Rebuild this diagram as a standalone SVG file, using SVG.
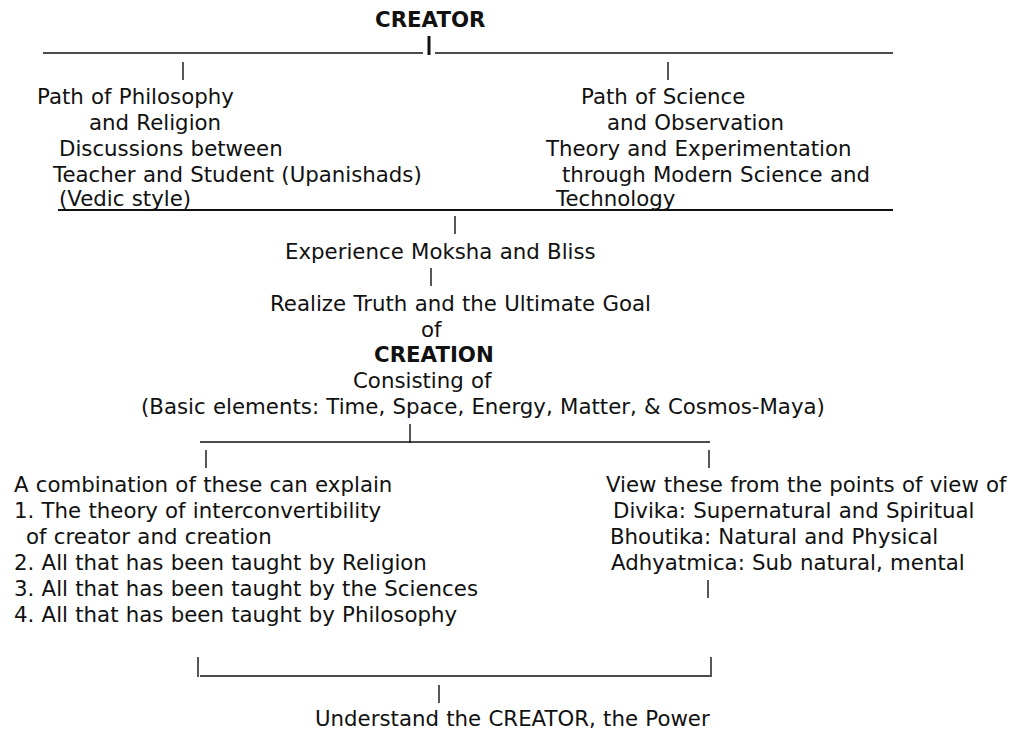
<svg xmlns="http://www.w3.org/2000/svg" width="1020" height="732" viewBox="0 0 1020 732">
<style>
text{font-family:"DejaVu Sans","Verdana",sans-serif;font-size:21.3px;word-spacing:0.5px;fill:#111}
.b{font-weight:bold}
.c line{stroke:#111;stroke-width:1.4}
.c .thick{stroke-width:3}
.c .ul{stroke-width:2.2}
</style>
<rect width="1020" height="732" fill="#fff"/>
<g id="connectors" class="c">
<line x1="43" y1="53" x2="423" y2="53"/>
<line class="thick" x1="429" y1="36" x2="429" y2="55"/>
<line x1="435" y1="53" x2="893" y2="53"/>
<line x1="183" y1="62" x2="183" y2="80"/>
<line x1="668" y1="62" x2="668" y2="80"/>
<line class="ul" x1="58" y1="210" x2="893" y2="210"/>
<line x1="455" y1="216" x2="455" y2="234"/>
<line x1="431" y1="268" x2="431" y2="286"/>
<line x1="200" y1="442" x2="710" y2="442"/>
<line x1="410" y1="424" x2="410" y2="443"/>
<line x1="206" y1="450" x2="206" y2="468"/>
<line x1="709" y1="450" x2="709" y2="468"/>
<line x1="708" y1="580" x2="708" y2="598"/>
<line x1="198" y1="657" x2="198" y2="677"/>
<line x1="200" y1="676" x2="710" y2="676"/>
<line x1="711" y1="657" x2="711" y2="677"/>
<line x1="439" y1="685" x2="439" y2="703"/>
</g>
<g id="creator"><text class="b" x="375" y="27">CREATOR</text></g>
<g id="philosophy">
<text x="37" y="104">Path of Philosophy</text>
<text x="89" y="130">and Religion</text>
<text x="59" y="156">Discussions between</text>
<text x="53" y="182">Teacher and Student (Upanishads)</text>
<text x="59" y="206">(Vedic style)</text>
</g>
<g id="science">
<text x="581" y="104">Path of Science</text>
<text x="607" y="130">and Observation</text>
<text x="546" y="156">Theory and Experimentation</text>
<text x="562" y="182">through Modern Science and</text>
<text x="556" y="206">Technology</text>
</g>
<g id="moksha"><text x="285" y="259">Experience Moksha and Bliss</text></g>
<g id="creation">
<text x="270" y="311">Realize Truth and the Ultimate Goal</text>
<text x="421" y="337">of</text>
<text class="b" x="374" y="362">CREATION</text>
<text x="353" y="388">Consisting of</text>
<text x="141" y="414">(Basic elements: Time, Space, Energy, Matter, &amp; Cosmos-Maya)</text>
</g>
<g id="combination">
<text x="14" y="492">A combination of these can explain</text>
<text x="14" y="518">1. The theory of interconvertibility</text>
<text x="26" y="544">of creator and creation</text>
<text x="14" y="570">2. All that has been taught by Religion</text>
<text x="14" y="596">3. All that has been taught by the Sciences</text>
<text x="14" y="622">4. All that has been taught by Philosophy</text>
</g>
<g id="views">
<text x="606" y="492">View these from the points of view of</text>
<text x="613" y="518">Divika: Supernatural and Spiritual</text>
<text x="610" y="544">Bhoutika: Natural and Physical</text>
<text x="611" y="570">Adhyatmica: Sub natural, mental</text>
</g>
<g id="understand"><text x="315" y="726">Understand the CREATOR, the Power</text></g>
</svg>
